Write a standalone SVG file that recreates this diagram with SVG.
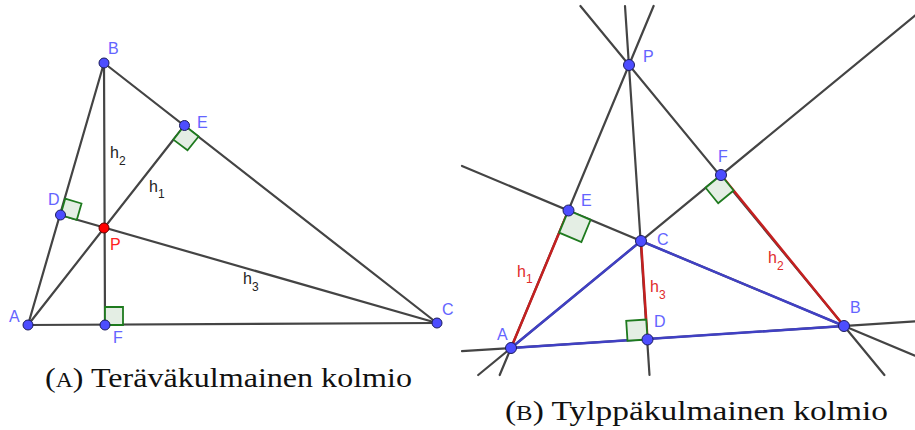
<svg xmlns="http://www.w3.org/2000/svg" width="915" height="430" viewBox="0 0 915 430">
<style>
.ln{stroke:#444;stroke-width:2.2;fill:none;stroke-linecap:round}
.bl{stroke:#4040c4;stroke-width:2.5;fill:none;stroke-linecap:round}
.rd{stroke:#c42020;stroke-width:2.5;fill:none;stroke-linecap:round}
.ra{fill:#e4eee4;stroke:#1e7a1e;stroke-width:1.8;stroke-linejoin:miter}
.pt{fill:#4d4dff;stroke:#1c1c5c;stroke-width:1}
.ptr{fill:#ff0000;stroke:#600;stroke-width:1}
.lb{font-family:"Liberation Sans",Arial,sans-serif;font-size:16px;fill:#6464ff}
.lbr{font-family:"Liberation Sans",Arial,sans-serif;font-size:16px;fill:#ff2020}
.hk{font-family:"Liberation Sans",Arial,sans-serif;font-size:16px;fill:#222}
.hr{font-family:"Liberation Sans",Arial,sans-serif;font-size:16px;fill:#e02a2a}
.sb{font-size:12px}
.cap{font-family:"Liberation Serif","Times New Roman",serif;font-size:27px;fill:#111}
</style>
<g id="connectors-left">
<line class="ln" x1="28" y1="325" x2="104" y2="63"/>
<line class="ln" x1="104" y1="63" x2="437" y2="323"/>
<line class="ln" x1="28" y1="325" x2="437" y2="323"/>
<line class="ln" x1="28" y1="325" x2="184.5" y2="125.5"/>
<line class="ln" x1="104" y1="63" x2="105" y2="325"/>
<line class="ln" x1="437" y1="323" x2="60.5" y2="215"/>
</g>
<g id="markers-left">
<polygon class="ra" points="60.5,215 65.2,198.7 81.5,203.5 76.8,219.9"/>
<polygon class="ra" points="184.5,125.5 198.6,136.5 187.5,150.3 173.4,139.6"/>
<polygon class="ra" points="105,325 105,307 123,307 123,325"/>
</g>
<g id="node-left-A"><circle class="pt" cx="28" cy="325" r="5"/><text class="lb" x="9" y="322">A</text></g>
<g id="node-left-B"><circle class="pt" cx="104" cy="63" r="5"/><text class="lb" x="108" y="54">B</text></g>
<g id="node-left-C"><circle class="pt" cx="437" cy="323" r="5"/><text class="lb" x="442" y="315">C</text></g>
<g id="node-left-D"><circle class="pt" cx="60.5" cy="215" r="5"/><text class="lb" x="48" y="205">D</text></g>
<g id="node-left-E"><circle class="pt" cx="184.5" cy="125.5" r="5"/><text class="lb" x="197" y="128">E</text></g>
<g id="node-left-F"><circle class="pt" cx="105" cy="325" r="5"/><text class="lb" x="113" y="343">F</text></g>
<g id="node-left-P"><circle class="ptr" cx="104" cy="228" r="5"/><text class="lbr" x="110" y="250">P</text></g>
<g id="labels-left">
<text class="hk" x="110" y="158">h<tspan class="sb" dy="7">2</tspan></text>
<text class="hk" x="149" y="192">h<tspan class="sb" dy="6">1</tspan></text>
<text class="hk" x="243" y="284">h<tspan class="sb" dy="7">3</tspan></text>
</g>
<g id="connectors-right">
<line class="ln" x1="462" y1="351.2" x2="915" y2="321.3"/>
<line class="ln" x1="478.2" y1="375" x2="915" y2="15.5"/>
<line class="ln" x1="462" y1="166" x2="915" y2="355.7"/>
<line class="ln" x1="580.4" y1="6" x2="884.4" y2="375"/>
<line class="ln" x1="625" y1="6" x2="649.5" y2="375"/>
<line class="ln" x1="653.6" y1="6" x2="499.7" y2="375"/>
<line class="bl" x1="511" y1="348" x2="844" y2="326"/>
<line class="bl" x1="844" y1="326" x2="641" y2="241"/>
<line class="bl" x1="641" y1="241" x2="511" y2="348"/>
<line class="rd" x1="511" y1="348" x2="568.5" y2="210.5"/>
<line class="rd" x1="844" y1="326" x2="721" y2="175"/>
<line class="rd" x1="641" y1="241" x2="647.5" y2="339.5"/>
</g>
<g id="markers-right">
<polygon class="ra" points="568.5,210.5 590.6,219.8 581.4,242 559.2,232.7"/>
<polygon class="ra" points="721,175 705.6,187.7 718.2,203.2 733.6,190.5"/>
<polygon class="ra" points="647.5,339.5 627.5,340.7 626.2,320.8 646.2,319.5"/>
</g>
<g id="node-right-A"><circle class="pt" cx="511" cy="348" r="5.5"/><text class="lb" x="497" y="340">A</text></g>
<g id="node-right-B"><circle class="pt" cx="844" cy="326" r="5.5"/><text class="lb" x="850" y="313">B</text></g>
<g id="node-right-C"><circle class="pt" cx="641" cy="241" r="5.5"/><text class="lb" x="657" y="245">C</text></g>
<g id="node-right-D"><circle class="pt" cx="647.5" cy="339.5" r="5.5"/><text class="lb" x="654" y="327">D</text></g>
<g id="node-right-E"><circle class="pt" cx="568.5" cy="210.5" r="5.5"/><text class="lb" x="581" y="206">E</text></g>
<g id="node-right-F"><circle class="pt" cx="721" cy="175" r="5.5"/><text class="lb" x="718" y="162">F</text></g>
<g id="node-right-P"><circle class="pt" cx="629" cy="65" r="5.5"/><text class="lb" x="643" y="62">P</text></g>
<g id="labels-right">
<text class="hr" x="517" y="277">h<tspan class="sb" dy="6">1</tspan></text>
<text class="hr" x="768" y="263">h<tspan class="sb" dy="7">2</tspan></text>
<text class="hr" x="650" y="292">h<tspan class="sb" dy="7">3</tspan></text>
</g>
<g id="captions">
<text class="cap" x="45" y="387" textLength="367" lengthAdjust="spacingAndGlyphs">(<tspan font-size="20">A</tspan>) Teräväkulmainen kolmio</text>
<text class="cap" x="505" y="420" textLength="383" lengthAdjust="spacingAndGlyphs">(<tspan font-size="20">B</tspan>) Tylppäkulmainen kolmio</text>
</g>
</svg>
